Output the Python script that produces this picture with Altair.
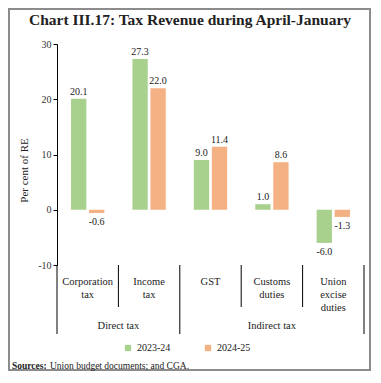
import altair as alt
import pandas as pd

categories = ["Corporation tax", "Income tax", "GST", "Customs duties", "Union excise duties"]
cat_labels = ["Corporation\ntax", "Income\ntax", "GST", "Customs\nduties", "Union\nexcise\nduties"]
series = ["2023-24", "2024-25"]
v_2023_24 = [20.1, 27.3, 9.0, 1.0, -6.0]
v_2024_25 = [-0.6, 22.0, 11.4, 8.6, -1.3]
colors = ["#a9d18e", "#f4b183"]

rows = []
for c, a, b in zip(categories, v_2023_24, v_2024_25):
    rows.append({"cat": c, "series": series[0], "value": a, "lab": f"{a:.1f}"})
    rows.append({"cat": c, "series": series[1], "value": b, "lab": f"{b:.1f}"})
df = pd.DataFrame(rows)
df_cat = pd.DataFrame({"cat": categories, "label": cat_labels})

FONT = "Liberation Serif"
W, H = 307, 221
xscale = alt.Scale(domain=categories, paddingInner=0, paddingOuter=0)

def X(axis=None, **kw):
    return alt.X("cat:N", sort=categories, scale=xscale, axis=axis, **kw)

xoff = alt.XOffset("series:N", sort=series, scale=alt.Scale(paddingInner=0.15, paddingOuter=0.78))
yenc = alt.Y("value:Q", scale=alt.Scale(domain=[-10, 30], nice=False),
             axis=alt.Axis(values=list(range(-10, 31, 5)), title="Per cent of RE", grid=False,
                           labelExpr="'' + datum.value",
                           domainColor="black", tickColor="black", tickSize=4,
                           labelFontSize=10, labelColor="#333", titleFontSize=11,
                           titleFontWeight="normal", titleColor="#222", titlePadding=8,
                           titleY=126))

bars = alt.Chart(df).mark_bar().encode(
    x=X(alt.Axis(labels=False, title=None, tickBand="extent", offset=-H / 4, grid=False,
                 domainColor="black", tickColor="black", tickSize=4)),
    xOffset=xoff,
    y=yenc,
    color=alt.Color("series:N", sort=series, scale=alt.Scale(domain=series, range=colors),
                    legend=alt.Legend(orient="none", legendX=66, legendY=299, direction="horizontal",
                                      title=None, symbolType="square", symbolSize=40,
                                      labelFontSize=10, labelColor="#222", columnPadding=32,
                                      symbolStrokeWidth=0)),
)

pos_lab = alt.Chart(df).transform_filter("datum.value >= 0").mark_text(
    baseline="bottom", dy=-2, fontSize=10, color="#222").encode(
    x=X(), xOffset=xoff, y=alt.Y("value:Q"), text="lab:N")
neg_lab = alt.Chart(df).transform_filter("datum.value < 0").mark_text(
    baseline="top", dy=4, fontSize=10, color="#222").encode(
    x=X(), xOffset=xoff, y=alt.Y("value:Q"), text="lab:N")

cat_text = alt.Chart(df_cat).mark_text(baseline="top", lineBreak="\n", lineHeight=13,
                                       fontSize=10.5, color="#222").encode(
    x=X(), y=alt.value(233), text="label:N")

short_sep = alt.Chart(pd.DataFrame({"cat": ["Income tax", "Customs duties", "Union excise duties"]})).mark_rule(
    color="black", strokeWidth=1).encode(x=X(bandPosition=0), y=alt.value(H), y2=alt.value(263))
long_sep0 = alt.Chart(pd.DataFrame({"cat": ["Corporation tax", "GST"]})).mark_rule(
    color="black", strokeWidth=1).encode(x=X(bandPosition=0), y=alt.value(H), y2=alt.value(290))
long_sep1 = alt.Chart(pd.DataFrame({"cat": ["Union excise duties"]})).mark_rule(
    color="black", strokeWidth=1).encode(x=X(bandPosition=1), y=alt.value(H), y2=alt.value(290))

grp_direct = alt.Chart(pd.DataFrame({"cat": ["Corporation tax"], "g": ["Direct tax"]})).mark_text(
    baseline="middle", fontSize=10.5, color="#222").encode(x=X(bandPosition=1), y=alt.value(282), text="g:N")
grp_indirect = alt.Chart(pd.DataFrame({"cat": ["Customs duties"], "g": ["Indirect tax"]})).mark_text(
    baseline="middle", fontSize=10.5, color="#222").encode(x=X(bandPosition=0.5), y=alt.value(282), text="g:N")

src_bold = alt.Chart(pd.DataFrame({"t": ["Sources:"]})).mark_text(
    align="left", baseline="middle", fontSize=9.5, fontWeight="bold", color="#222").encode(
    x=alt.value(-45), y=alt.value(322), text="t:N")
src_rest = alt.Chart(pd.DataFrame({"t": ["Union budget documents; and CGA."]})).mark_text(
    align="left", baseline="middle", fontSize=9.5, color="#222").encode(
    x=alt.value(-7), y=alt.value(322), text="t:N")

title = alt.Chart(pd.DataFrame({"t": ["Chart III.17: Tax Revenue during April-January"]})).mark_text(
    align="center", baseline="middle", fontSize=15.5, fontWeight="bold", color="#222").encode(
    x=alt.value(133), y=alt.value(-24), text="t:N")

frame = alt.Chart(pd.DataFrame({"a": [0]})).mark_rect(fillOpacity=0, stroke="#8c8c8c", strokeWidth=2).encode(
    x=alt.value(-48), x2=alt.value(313), y=alt.value(-35), y2=alt.value(326))

chart = alt.layer(
    frame, bars, pos_lab, neg_lab, cat_text, short_sep, long_sep0, long_sep1,
    grp_direct, grp_indirect, src_bold, src_rest, title
).properties(
    width=W, height=H,
    autosize=alt.AutoSizeParams(type="none"),
    padding={"left": 49, "top": 36, "right": 7, "bottom": 106},
).configure(font=FONT).configure_view(strokeWidth=0)

chart.save("out.html", embed_options={"renderer": "svg", "actions": False})
